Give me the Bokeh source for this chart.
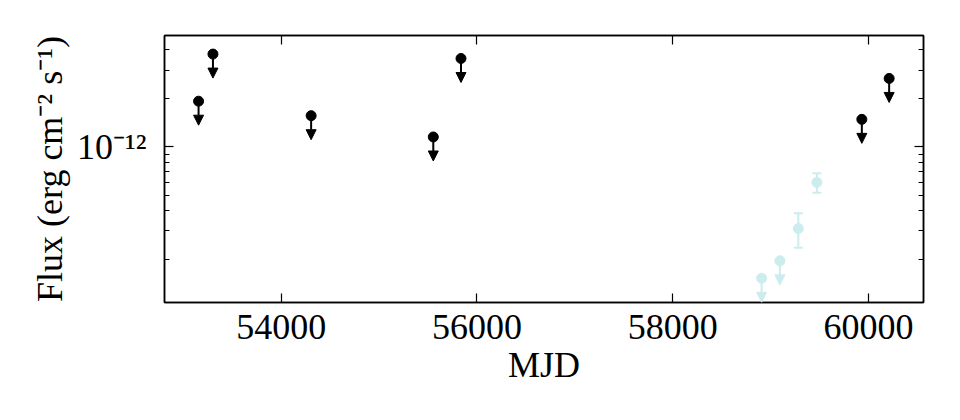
from bokeh.plotting import figure
from bokeh.models import (ColumnDataSource, Range1d, FixedTicker, LogAxis, LinearAxis,
                          Arrow, NormalHead, Whisker, TeeHead)
from bokeh.embed import file_html
from bokeh.resources import INLINE

# ---- data ----
# black: upper limits
ul_mjd = [53156, 53303, 54306, 55554, 55837, 59932, 60211]
ul_flux = [1.92e-12, 3.77e-12, 1.56e-12, 1.15e-12, 3.54e-12, 1.48e-12, 2.66e-12]

# light cyan: upper limits
cyan_ul_mjd = [58908, 59095]
cyan_ul_flux = [1.52e-13, 1.95e-13]

# light cyan: detections with error bars
cyan_mjd = [59283, 59473]
cyan_flux = [3.10e-13, 6.00e-13]
cyan_lo = [2.35e-13, 5.18e-13]
cyan_hi = [3.86e-13, 6.83e-13]

x_ticks = [54000, 56000, 58000, 60000]
y_major = [1e-12]
y_minor = [k * 1e-13 for k in range(2, 10)] + [k * 1e-12 for k in range(2, 6)]
y_label_map = {1e-12: "10\u207b\u00b9\u00b2"}

# ---- style ----
BLACK = "#000000"
CYAN = "#cdeced"
ARROW_FACTOR = 0.709   # arrow length for upper limits (multiplicative on log axis)
FONT = "Liberation Serif"
FSIZE = "36px"

p = figure(width=952, height=412, y_axis_type="log",
           x_range=Range1d(52808, 60562), y_range=Range1d(1.074e-13, 4.92e-12),
           output_backend="svg", toolbar_location=None,
           min_border_left=164, min_border_right=29, min_border_top=35, min_border_bottom=110)
p.grid.visible = False
p.outline_line_color = BLACK
p.outline_line_width = 1.5
p.background_fill_color = "white"
p.border_fill_color = "white"

# upper-limit arrows (black)
src_ul = ColumnDataSource(dict(x=ul_mjd, y=ul_flux, ye=[f * ARROW_FACTOR for f in ul_flux]))
p.add_layout(Arrow(end=NormalHead(size=10, fill_color=BLACK, line_color=BLACK, line_width=1),
                   x_start="x", y_start="y", x_end="x", y_end="ye", source=src_ul,
                   line_color=BLACK, line_width=2))
p.scatter("x", "y", source=src_ul, marker="circle", size=10, fill_color=BLACK, line_color=BLACK)

# cyan upper limits
src_cul = ColumnDataSource(dict(x=cyan_ul_mjd, y=cyan_ul_flux,
                                ye=[f * ARROW_FACTOR for f in cyan_ul_flux]))
p.add_layout(Arrow(end=NormalHead(size=10, fill_color=CYAN, line_color=CYAN, line_width=1),
                   x_start="x", y_start="y", x_end="x", y_end="ye", source=src_cul,
                   line_color=CYAN, line_width=2))
p.scatter("x", "y", source=src_cul, marker="circle", size=10, fill_color=CYAN, line_color=CYAN)

# cyan detections
src_det = ColumnDataSource(dict(x=cyan_mjd, y=cyan_flux, lo=cyan_lo, hi=cyan_hi))
p.add_layout(Whisker(base="x", upper="hi", lower="lo", source=src_det, dimension="height",
                     line_color=CYAN, line_width=2,
                     upper_head=TeeHead(size=9, line_color=CYAN, line_width=2),
                     lower_head=TeeHead(size=9, line_color=CYAN, line_width=2)))
p.scatter("x", "y", source=src_det, marker="circle", size=10, fill_color=CYAN, line_color=CYAN)

# ---- axes ----
def style_axis(ax):
    ax.axis_line_color = BLACK
    ax.axis_line_width = 1.5
    ax.major_tick_in = 9
    ax.major_tick_out = 0
    ax.minor_tick_in = 5
    ax.minor_tick_out = 0
    ax.major_tick_line_width = 1.2
    ax.minor_tick_line_width = 1.0
    ax.major_tick_line_color = BLACK
    ax.minor_tick_line_color = BLACK
    ax.major_label_text_font = FONT
    ax.major_label_text_font_size = FSIZE
    ax.major_label_text_color = BLACK
    ax.axis_label_text_font = FONT
    ax.axis_label_text_font_size = FSIZE
    ax.axis_label_text_font_style = "normal"
    ax.axis_label_text_color = BLACK

xa = p.xaxis[0]
xa.ticker = FixedTicker(ticks=x_ticks, minor_ticks=[])
xa.axis_label = "MJD"
style_axis(xa)
xa.major_label_standoff = 12
xa.axis_label_standoff = 3

ya = p.yaxis[0]
ya.ticker = FixedTicker(ticks=y_major, minor_ticks=y_minor)
ya.major_label_overrides = y_label_map
ya.axis_label = "Flux (erg cm\u207b\u00b2 s\u207b\u00b9)"
style_axis(ya)
ya.major_label_standoff = 18
ya.axis_label_standoff = 4

top = LinearAxis(ticker=FixedTicker(ticks=x_ticks, minor_ticks=[]))
style_axis(top)
top.major_label_text_font_size = "0px"
top.major_label_overrides = {t: "" for t in x_ticks}
p.add_layout(top, "above")

right = LogAxis(ticker=FixedTicker(ticks=y_major, minor_ticks=y_minor))
style_axis(right)
right.major_label_text_font_size = "0px"
right.major_label_overrides = {t: "" for t in y_major}
p.add_layout(right, "right")

open("out.html", "w").write(file_html(p, INLINE))
